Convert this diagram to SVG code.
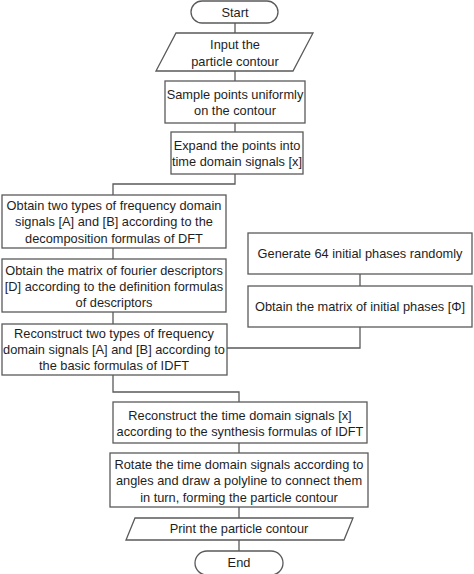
<svg xmlns="http://www.w3.org/2000/svg" width="474" height="574" viewBox="0 0 474 574">
<style>
.s{fill:#fff;stroke:#5a5a5a;stroke-width:1.3}
.c{fill:none;stroke:#5a5a5a;stroke-width:1.3}
text{font-family:"Liberation Sans",Arial,sans-serif;font-size:12.8px;fill:#1e1e1e;text-anchor:middle}
</style>
<rect width="474" height="574" fill="#fff"/>
<g id="connectors">
<path class="c" d="M235 23V33M235 71V81M235 123V132M235 174V184H113V195M113 248V259M113 312V324M360 274V286M360 327V348H227M113 375V392H239V402M239 443V453M239 507V518M239 540V551"/>
</g>
<g id="start"><rect class="s" x="191" y="1" width="87" height="22" rx="11"/><text x="235" y="16.5">Start</text></g>
<g id="input"><polygon class="s" points="176,33 313,33 293,71 156,71"/><text x="235" y="48.5">Input the</text><text x="235" y="65.5">particle contour</text></g>
<g id="sample"><rect class="s" x="165" y="81" width="140" height="42"/><text x="235" y="98.5">Sample points uniformly</text><text x="235" y="114.5">on the contour</text></g>
<g id="expand"><rect class="s" x="171" y="132" width="132" height="42"/><text x="237" y="149.5">Expand the points into</text><text x="237" y="166">time domain signals [x]</text></g>
<g id="dft"><rect class="s" x="2" y="195" width="224" height="53"/><text x="114" y="209.5">Obtain two types of frequency domain</text><text x="114" y="226">signals [A] and [B] according to the</text><text x="114" y="242.5">decomposition formulas of DFT</text></g>
<g id="descriptors"><rect class="s" x="2" y="259" width="224" height="53"/><text x="114" y="274.5">Obtain the matrix of fourier descriptors</text><text x="114" y="291">[D] according to the definition formulas</text><text x="114" y="307">of descriptors</text></g>
<g id="idft"><rect class="s" x="2" y="324" width="225" height="51"/><text x="114" y="338">Reconstruct two types of frequency</text><text x="114" y="354">domain signals [A] and [B] according to</text><text x="114" y="370">the basic formulas of IDFT</text></g>
<g id="generate"><rect class="s" x="248" y="233" width="224" height="41"/><text x="360" y="258">Generate 64 initial phases randomly</text></g>
<g id="phases"><rect class="s" x="248" y="286" width="224" height="41"/><text x="360" y="311">Obtain the matrix of initial phases [Φ]</text></g>
<g id="reconstruct"><rect class="s" x="113" y="402" width="254" height="41"/><text x="240" y="419.5">Reconstruct the time domain signals [x]</text><text x="240" y="436">according to the synthesis formulas of IDFT</text></g>
<g id="rotate"><rect class="s" x="110" y="453" width="258" height="54"/><text x="239" y="468.5">Rotate the time domain signals according to</text><text x="239" y="485">angles and draw a polyline to connect them</text><text x="239" y="501.5">in turn, forming the particle contour</text></g>
<g id="print"><polygon class="s" points="135,518 353,518 344,540 126,540"/><text x="239" y="533">Print the particle contour</text></g>
<g id="end"><rect class="s" x="195" y="551" width="88" height="24" rx="12"/><text x="239" y="567">End</text></g>
</svg>
